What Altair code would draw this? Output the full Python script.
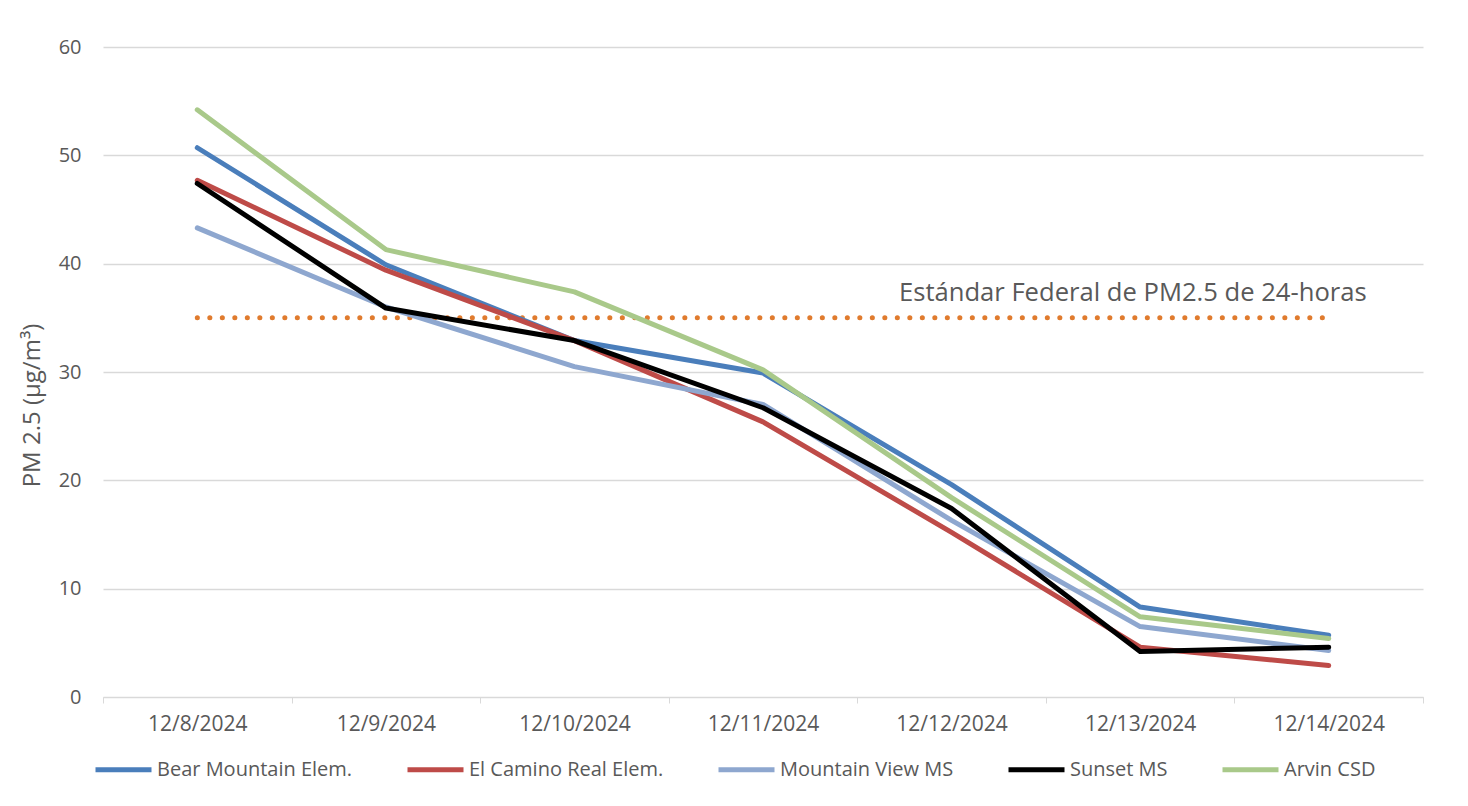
import altair as alt
import pandas as pd

dates = ["12/8/2024", "12/9/2024", "12/10/2024", "12/11/2024",
         "12/12/2024", "12/13/2024", "12/14/2024"]
series_names = ["Bear Mountain Elem.", "El Camino Real Elem.",
                "Mountain View MS", "Sunset MS", "Arvin CSD"]
bear = [50.7, 39.9, 32.9, 29.9, 19.6, 8.3, 5.7]
camino = [47.7, 39.4, 32.9, 25.4, 15.2, 4.6, 2.9]
mview = [43.3, 36.0, 30.5, 27.0, 16.3, 6.5, 4.3]
sunset = [47.4, 35.9, 32.9, 26.7, 17.4, 4.2, 4.6]
arvin = [54.2, 41.3, 37.4, 30.2, 18.4, 7.4, 5.4]
colors = ["#4A7EBB", "#BE4B48", "#8EA7CF", "#000000", "#A9C98A"]
standard = 35
standard_label = "Estándar Federal de PM2.5 de 24-horas"

rows = []
for name, vals in zip(series_names, [bear, camino, mview, sunset, arvin]):
    for d, v in zip(dates, vals):
        rows.append({"date": d, "site": name, "value": v})
df = pd.DataFrame(rows)
std_df = pd.DataFrame({"date": dates, "value": [standard] * len(dates)})
lbl_df = pd.DataFrame({"date": [dates[-1]], "value": [standard], "text": [standard_label]})

FONT = "Open Sans"
GRAY = "#595959"

x_enc = alt.X("date:N", sort=dates,
              scale=alt.Scale(type="band", paddingInner=0, paddingOuter=0),
              axis=alt.Axis(title=None, labelAngle=0, tickBand="extent",
                            domainColor="#d9d9d9", tickColor="#d9d9d9",
                            tickSize=6, labelPadding=10, labelFontSize=21,
                            labelColor=GRAY, labelFont=FONT, grid=False))
y_enc = alt.Y("value:Q", scale=alt.Scale(domain=[0, 60], nice=False),
              axis=alt.Axis(title="PM 2.5 (µg/m³)", values=[0, 10, 20, 30, 40, 50, 60],
                            domain=False, ticks=False, labelPadding=22,
                            labelFontSize=20, labelColor=GRAY, labelFont=FONT,
                            gridColor="#d9d9d9", gridWidth=1.3,
                            titleFontSize=24, titleColor=GRAY, titleFont=FONT,
                            titleFontWeight="normal", titleX=-71, titleY=358,
                            titleAngle=-90, titleBaseline="middle", titleAlign="center"))

std_line = alt.Chart(std_df).mark_line(
    color="#E07B2E", strokeWidth=5, strokeDash=[0.1, 12.4], strokeCap="round"
).encode(x=x_enc, y=y_enc)

std_text = alt.Chart(lbl_df).mark_text(
    align="right", baseline="middle", dx=38, dy=-25, fontSize=25.6, font=FONT, color=GRAY
).encode(x=alt.X("date:N", sort=dates), y="value:Q", text="text:N")

lines = alt.Chart(df).mark_line(strokeWidth=5, strokeCap="round", strokeJoin="round").encode(
    x=x_enc, y=y_enc,
    color=alt.Color("site:N", sort=series_names,
                    scale=alt.Scale(domain=series_names, range=colors),
                    legend=alt.Legend(title=None, orient="none", legendX=-10, legendY=692,
                                      direction="horizontal", columns=5,
                                      symbolType="stroke", symbolSize=3136,
                                      symbolStrokeWidth=5, columnPadding=44,
                                      labelOffset=3, labelFontSize=20, labelFont=FONT,
                                      labelLimit=400, labelColor=GRAY, padding=0))
)

chart = alt.layer(std_line, lines, std_text).properties(
    width=1320, height=650,
    autosize=alt.AutoSizeParams(type="none"),
    padding={"left": 95, "top": 39, "right": 37, "bottom": 100},
).configure_view(stroke=None)

chart.save("out.html", embed_options={"renderer": "svg", "actions": False})
